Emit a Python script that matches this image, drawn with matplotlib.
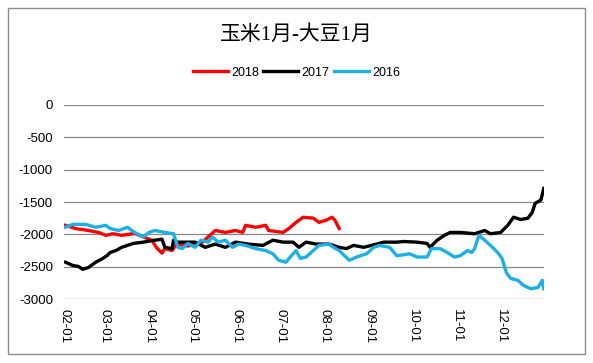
#-*- coding: utf-8 -*-
# 玉米1月-大豆1月 价差季节图
import pandas as pd
import matplotlib
matplotlib.use('Agg')
import matplotlib.pyplot as plt
import matplotlib.dates as mdates
from matplotlib.patches import Rectangle

plt.rcParams['font.family'] = ['Liberation Sans', 'Noto Sans CJK SC', 'DejaVu Sans']
plt.rcParams['axes.unicode_minus'] = False

# 2018
dates_2018 = ['02-02', '02-09', '02-18', '02-25', '03-02', '03-07', '03-13', '03-22', '03-28',
              '04-03', '04-06', '04-10', '04-12', '04-17', '04-20', '04-28', '05-03', '05-08',
              '05-12', '05-17', '05-24', '05-31', '06-05', '06-07', '06-14', '06-21', '06-23',
              '07-03', '07-07', '07-12', '07-17', '07-24', '07-28', '08-02', '08-06', '08-08', '08-11']
vals_2018 = [-1860, -1910, -1940, -1970, -2015, -1990, -2015, -1985, -2040,
             -2090, -2200, -2290, -2220, -2250, -2150, -2180, -2150, -2120,
             -2040, -1940, -1970, -1940, -1970, -1860, -1890, -1860, -1940,
             -1970, -1910, -1815, -1735, -1750, -1815, -1780, -1735, -1780, -1910]

# 2017
dates_2017 = ['02-02', '02-07', '02-11', '02-14', '02-18', '02-23', '02-28', '03-03', '03-05',
              '03-09', '03-13', '03-21', '03-28', '04-05', '04-10', '04-12', '04-17', '04-18',
              '04-20', '05-03', '05-10', '05-17', '05-24', '05-31', '06-09', '06-19', '06-26',
              '07-03', '07-10', '07-14', '07-19', '07-26', '08-04', '08-11', '08-16', '08-21',
              '08-28', '09-06', '09-11', '09-20', '09-25', '10-04', '10-11', '10-13', '10-18',
              '10-23', '10-27', '11-03', '11-13', '11-20', '11-24', '12-01', '12-06', '12-10',
              '12-15', '12-20', '12-23', '12-25', '12-29', '12-31']
vals_2017 = [-2430, -2480, -2495, -2540, -2510, -2430, -2370, -2325, -2280,
             -2250, -2200, -2140, -2120, -2090, -2075, -2200, -2220, -2090,
             -2120, -2120, -2200, -2150, -2200, -2120, -2150, -2170, -2090,
             -2120, -2120, -2200, -2120, -2150, -2150, -2200, -2220, -2170,
             -2200, -2150, -2120, -2120, -2110, -2120, -2140, -2200, -2090,
             -2015, -1970, -1970, -1990, -1940, -1990, -1970, -1860, -1735,
             -1770, -1750, -1660, -1520, -1470, -1290]

# 2016
dates_2016 = ['02-02', '02-07', '02-16', '02-23', '03-02', '03-05', '03-11', '03-17', '03-22',
              '03-28', '04-01', '04-05', '04-12', '04-18', '04-21', '04-24', '04-28', '05-03',
              '05-07', '05-12', '05-15', '05-19', '05-24', '05-29', '06-02', '06-07', '06-14',
              '06-21', '06-26', '06-30', '07-05', '07-08', '07-12', '07-15', '07-19', '07-24',
              '07-28', '08-04', '08-07', '08-11', '08-18', '08-23', '08-30', '09-04', '09-08',
              '09-15', '09-20', '09-29', '10-04', '10-11', '10-14', '10-20', '10-25', '10-30',
              '11-03', '11-08', '11-11', '11-13', '11-16', '11-20', '11-24', '11-29', '12-02',
              '12-05', '12-08', '12-13', '12-17', '12-22', '12-27', '12-30', '12-31']
vals_2016 = [-1890, -1845, -1845, -1890, -1860, -1910, -1940, -1890, -1970,
             -2040, -1970, -1940, -1970, -1990, -2200, -2220, -2140, -2200,
             -2090, -2120, -2040, -2120, -2090, -2200, -2150, -2170, -2220,
             -2250, -2300, -2400, -2430, -2350, -2250, -2370, -2350, -2250,
             -2170, -2150, -2200, -2250, -2400, -2350, -2300, -2200, -2170,
             -2200, -2330, -2300, -2350, -2350, -2220, -2220, -2280, -2350,
             -2330, -2250, -2280, -2220, -2015, -2090, -2170, -2280, -2370,
             -2590, -2680, -2710, -2790, -2840, -2820, -2710, -2840]

yticks = [0, -500, -1000, -1500, -2000, -2500, -3000]
month_ticks = ['02-01', '03-01', '04-01', '05-01', '06-01', '07-01',
               '08-01', '09-01', '10-01', '11-01', '12-01']

def to_dt(lst):
    return pd.to_datetime(['2017-' + s for s in lst])

fig = plt.figure(figsize=(5.93, 3.63), dpi=100)
fig.patches.append(Rectangle((0.0135, 0.025), 0.973, 0.953, transform=fig.transFigure,
                             fill=False, edgecolor='#8c8c8c', linewidth=1.0))
ax = fig.add_axes([0.108, 0.176, 0.809, 0.535])

ax.plot(to_dt(dates_2018), vals_2018, color='#ff0000', linewidth=2.4, label='2018')
ax.plot(to_dt(dates_2017), vals_2017, color='#000000', linewidth=2.4, label='2017')
ax.plot(to_dt(dates_2016), vals_2016, color='#1cb0e8', linewidth=2.4, label='2016')

ax.set_ylim(-3000, 0)
ax.set_yticks(yticks)
ax.set_xlim(pd.Timestamp('2017-02-01'), pd.Timestamp('2017-12-31'))
ax.set_xticks(to_dt(month_ticks))
ax.xaxis.set_major_formatter(mdates.DateFormatter('%m-%d'))
plt.setp(ax.get_xticklabels(), rotation=-90, ha='center', va='top')
ax.tick_params(axis='both', length=0, labelsize=9.5, colors='black')
ax.tick_params(axis='x', pad=7)
ax.tick_params(axis='y', pad=8)
ax.grid(axis='y', color='#888888', linewidth=0.9)
ax.set_axisbelow(True)
for s in ax.spines.values():
    s.set_visible(False)

fig.text(0.5, 0.904, u'玉米1月-大豆1月', ha='center', va='center', fontsize=15,
         family=['Liberation Serif', 'Noto Sans CJK SC'])
fig.legend(loc='center', bbox_to_anchor=(0.5, 0.80), ncol=3, frameon=False, fontsize=9,
           handlelength=2.8, handletextpad=0.3, columnspacing=0.3)

fig.savefig('out.png', dpi=100)
